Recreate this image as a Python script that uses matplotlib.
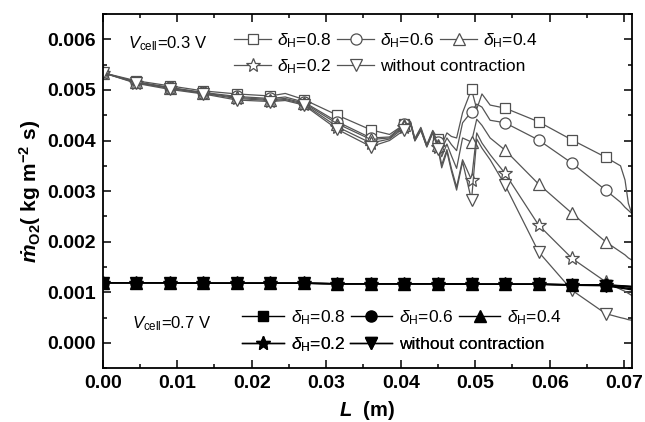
import numpy as np
import matplotlib
matplotlib.use('Agg')
import matplotlib.pyplot as plt
from matplotlib.ticker import MultipleLocator, FormatStrFormatter

plt.rcParams['font.family'] = 'Liberation Sans'
plt.rcParams['mathtext.fontset'] = 'custom'
plt.rcParams['mathtext.rm'] = 'Liberation Sans'
plt.rcParams['mathtext.it'] = 'Liberation Sans:italic'
plt.rcParams['mathtext.bf'] = 'Liberation Sans:bold'
plt.rcParams['mathtext.bfit'] = 'Liberation Sans:italic:bold'

# ---- data (mass flux in 1e-3 kg m^-2 s^-1) ----
labels = [r'$\delta_{\mathrm{H}}$=0.8', r'$\delta_{\mathrm{H}}$=0.6', r'$\delta_{\mathrm{H}}$=0.4',
          r'$\delta_{\mathrm{H}}$=0.2', 'without contraction']

# Vcell = 0.3 V
L03 = [0, 0.0045, 0.009, 0.0135, 0.018, 0.0225, 0.0245, 0.027, 0.0315, 0.036,
       0.0385, 0.0405, 0.0413, 0.0419, 0.0427, 0.0435, 0.0443, 0.045, 0.0455, 0.0462,
       0.0468, 0.0475, 0.0483, 0.0495, 0.0502, 0.0509, 0.052, 0.054, 0.0585, 0.063,
       0.0675, 0.0695, 0.0701, 0.07055, 0.071]
m03_08 = [5.34, 5.18, 5.08, 4.98, 4.92, 4.88, 4.93, 4.81, 4.50, 4.21,
          4.12, 4.32, 4.38, 4.04, 4.26, 3.92, 4.20, 4.02, 3.92, 4.15,
          4.08, 4.05, 4.55, 5.01, 4.62, 4.92, 4.70, 4.64, 4.37, 4.01,
          3.67, 3.50, 3.22, 2.76, 2.56]
m03_06 = [5.34, 5.16, 5.05, 4.95, 4.87, 4.83, 4.86, 4.76, 4.37, 4.05,
          4.07, 4.33, 4.37, 4.02, 4.24, 3.90, 4.18, 3.97, 3.83, 4.05,
          3.92, 3.80, 4.35, 4.57, 4.72, 4.66, 4.40, 4.35, 4.01, 3.55,
          3.02, 2.78, 2.68, 2.62, 2.56]
m03_04 = [5.34, 5.15, 5.04, 4.94, 4.85, 4.81, 4.83, 4.74, 4.33, 4.02,
          4.05, 4.30, 4.36, 4.01, 4.22, 3.89, 4.17, 3.92, 3.68, 3.93,
          3.70, 3.45, 4.05, 3.97, 4.42, 4.30, 4.05, 3.81, 3.14, 2.56,
          2.00, 1.80, 1.74, 1.68, 1.64]
m03_02 = [5.34, 5.14, 5.03, 4.93, 4.83, 4.79, 4.81, 4.72, 4.27, 3.95,
          4.03, 4.26, 4.35, 4.00, 4.21, 3.88, 4.16, 3.88, 3.52, 3.82,
          3.45, 3.08, 3.62, 3.22, 4.15, 3.95, 3.72, 3.35, 2.33, 1.67,
          1.21, 1.06, 1.02, 0.98, 0.94]
m03_none = [5.34, 5.13, 5.01, 4.92, 4.80, 4.77, 4.79, 4.70, 4.22, 3.88,
            4.00, 4.21, 4.34, 3.99, 4.20, 3.87, 4.15, 3.84, 3.46, 3.78,
            3.40, 3.02, 3.58, 2.82, 4.03, 3.85, 3.62, 3.12, 1.80, 1.04,
            0.58, 0.50, 0.48, 0.46, 0.45]

# Vcell = 0.7 V
L07 = [0, 0.0045, 0.009, 0.0135, 0.018, 0.0225, 0.027, 0.0315, 0.036, 0.0405,
       0.045, 0.0495, 0.054, 0.0585, 0.063, 0.0675, 0.071]
m07_08 = [1.19, 1.19, 1.19, 1.18, 1.18, 1.18, 1.18, 1.17, 1.17, 1.17, 1.17, 1.16, 1.16, 1.16, 1.15, 1.15, 1.12]
m07_06 = [1.19, 1.19, 1.19, 1.18, 1.18, 1.18, 1.18, 1.17, 1.17, 1.17, 1.17, 1.16, 1.16, 1.16, 1.15, 1.15, 1.11]
m07_04 = [1.19, 1.19, 1.19, 1.18, 1.18, 1.18, 1.18, 1.17, 1.17, 1.17, 1.17, 1.16, 1.16, 1.16, 1.15, 1.14, 1.10]
m07_02 = [1.19, 1.19, 1.19, 1.18, 1.18, 1.18, 1.18, 1.17, 1.17, 1.17, 1.17, 1.16, 1.16, 1.16, 1.15, 1.14, 1.07]
m07_none = [1.19, 1.19, 1.19, 1.18, 1.18, 1.18, 1.18, 1.17, 1.17, 1.17, 1.17, 1.16, 1.16, 1.16, 1.14, 1.13, 1.05]

series03 = [m03_08, m03_06, m03_04, m03_02, m03_none]
series07 = [m07_08, m07_06, m07_04, m07_02, m07_none]
markers = ['s', 'o', '^', '*', 'v']
msizes = [7.5, 8, 8, 10, 8]

# markers sit on every 0.0045 m step
step = 0.0045
mark03 = [i for i, x in enumerate(L03) if abs(x / step - round(x / step)) < 1e-6]
mark07 = [i for i, x in enumerate(L07) if abs(x / step - round(x / step)) < 1e-6]

fig = plt.figure(figsize=(6.45, 4.22), dpi=100)
ax = fig.add_axes([0.1592, 0.1273, 0.8202, 0.8396])

h03 = []
for vals, mk, ms, lab in zip(series03, markers, msizes, labels):
    ln, = ax.plot(L03, np.array(vals) * 1e-3, color='#555555', lw=0.9,
                  marker=mk, ms=ms, mfc='white', mec='#505050', mew=0.9,
                  markevery=mark03, label=lab)
    h03.append(ln)

h07 = []
for vals, mk, ms, lab in zip(series07, markers, msizes, labels):
    ln, = ax.plot(L07, np.array(vals) * 1e-3, color='black', lw=1.0,
                  marker=mk, ms=ms, mfc='black', mec='black',
                  markevery=mark07, label=lab)
    h07.append(ln)

ax.set_xlim(0, 0.071)
ax.set_ylim(-0.0005, 0.0065)
ax.xaxis.set_major_locator(MultipleLocator(0.01))
ax.xaxis.set_minor_locator(MultipleLocator(0.005))
ax.yaxis.set_major_locator(MultipleLocator(0.001))
ax.yaxis.set_minor_locator(MultipleLocator(0.0005))
ax.xaxis.set_major_formatter(FormatStrFormatter('%.2f'))
ax.yaxis.set_major_formatter(FormatStrFormatter('%.3f'))
ax.tick_params(which='both', direction='in', top=True, right=True, width=1.1)
ax.tick_params(which='major', length=5.5, labelsize=14, pad=5)
ax.tick_params(which='minor', length=3)
for t in ax.get_xticklabels() + ax.get_yticklabels():
    t.set_fontweight('bold')
for s in ax.spines.values():
    s.set_linewidth(1.3)

ax.set_xlabel(r'$\mathbfit{L}$  (m)', fontsize=14.5, fontweight='bold')
ax.xaxis.set_label_coords(0.5, -0.088)
ax.set_ylabel(r'$\mathbfit{\dot{m}}_{\mathbf{O2}}\mathbf{(\ kg\ m^{-2}\ s)}$', fontsize=15)
ax.yaxis.set_label_coords(-0.112, 0.5)

ax.text(0.048, 0.904, r'$V_{\mathrm{cell}}$=0.3 V', transform=ax.transAxes, fontsize=12, va='baseline')
ax.text(0.055, 0.114, r'$V_{\mathrm{cell}}$=0.7 V', transform=ax.transAxes, fontsize=12, va='baseline')

top_kw = dict(frameon=False, fontsize=12.5, handlelength=2.1, handletextpad=0.35,
              columnspacing=0.35, borderpad=0, borderaxespad=0, loc='upper left')
bot_kw = dict(frameon=False, fontsize=12.5, handlelength=2.4, handletextpad=0.4,
              columnspacing=0.3, borderpad=0, borderaxespad=0, loc='upper left')
legs = [
    ax.legend(h03[:3], labels[:3], ncol=3, bbox_to_anchor=(0.249, 0.952), **top_kw),
    ax.legend(h03[3:], labels[3:], ncol=2, bbox_to_anchor=(0.249, 0.878), **top_kw),
    ax.legend(h07[:3], labels[:3], ncol=3, bbox_to_anchor=(0.264, 0.170), **bot_kw),
    ax.legend(h07[3:], labels[3:], ncol=2, bbox_to_anchor=(0.264, 0.094), **bot_kw),
]
for lg in legs:
    ax.add_artist(lg)

fig.savefig('out.png', dpi=100)
